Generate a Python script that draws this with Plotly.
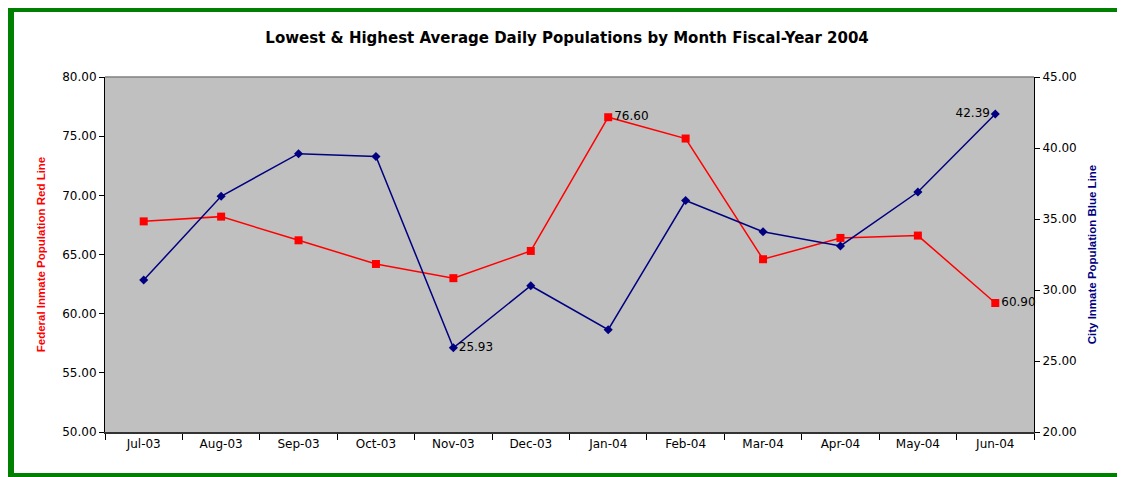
import plotly.graph_objects as go

months = ["Jul-03", "Aug-03", "Sep-03", "Oct-03", "Nov-03", "Dec-03",
          "Jan-04", "Feb-04", "Mar-04", "Apr-04", "May-04", "Jun-04"]
federal = [67.8, 68.2, 66.2, 64.2, 63.0, 65.3, 76.60, 74.8, 64.6, 66.4, 66.6, 60.90]
city = [30.7, 36.6, 39.6, 39.4, 25.93, 30.3, 27.2, 36.3, 34.1, 33.1, 36.9, 42.39]

fed_labels = ["", "", "", "", "", "", "76.60", "", "", "", "", "60.90"]
city_labels = ["", "", "", "", "25.93", "", "", "", "", "", "", "42.39"]
city_pos = ["middle right"] * 11 + ["middle left"]

# page body has an 8px margin, so the figure is drawn from (8, 8)
OFF = 8
W, H = 1125 - OFF, 477 - OFF
L, T = 105 - OFF, 77 - OFF
pw, ph = 929, 355
R, B = W - L - pw, H - T - ph


def px(x):
    return (x - OFF - L) / pw


def py(y):
    return (T + ph - (y - OFF)) / ph


tick_font = dict(family="DejaVu Sans", size=12, color="black")
narrow = "Liberation Sans Narrow, Arial Narrow, Liberation Sans"
green = "#008000"

fig = go.Figure()
fig.add_trace(go.Scatter(
    x=months, y=federal, mode="lines+markers+text", name="Federal",
    line=dict(color="#FF0000", width=1.5),
    marker=dict(symbol="square", size=8, color="#FF0000"),
    text=fed_labels, textposition="middle right", textfont=tick_font,
    cliponaxis=False))
fig.add_trace(go.Scatter(
    x=months, y=city, mode="lines+markers+text", name="City", yaxis="y2",
    line=dict(color="#000080", width=1.5),
    marker=dict(symbol="diamond", size=7, color="#000080"),
    text=city_labels, textposition=city_pos, textfont=tick_font,
    cliponaxis=False))

fig.update_layout(
    width=W, height=H,
    margin=dict(l=L, r=R, t=T, b=B),
    paper_bgcolor="white", plot_bgcolor="#C0C0C0",
    showlegend=False,
    title=dict(text="<b>Lowest & Highest Average Daily Populations by Month Fiscal-Year 2004</b>",
               x=px(570), xanchor="center", y=1 - (38 - OFF) / H, yanchor="middle",
               font=dict(family="DejaVu Sans", size=15, color="black")),
    xaxis=dict(type="category", tickson="boundaries", ticks="outside", ticklen=6,
               tickcolor="black", showline=True, linecolor="#333333", linewidth=2,
               showgrid=False, tickfont=tick_font, range=[-0.5, 11.5]),
    yaxis=dict(range=[50, 80], dtick=5, tickformat=".2f", ticks="outside", ticklen=5,
               tickcolor="black", showline=True, linecolor="black", linewidth=1,
               showgrid=False, zeroline=False, tickfont=tick_font,
               title=dict(text="<b>Federal Inmate Population Red Line</b>", standoff=14,
                          font=dict(family=narrow, size=11.5, color="#FF0000"))),
    yaxis2=dict(range=[20, 45], dtick=5, tickformat=".2f", ticks="outside", ticklen=5,
                tickcolor="black", showline=True, linecolor="black", linewidth=1,
                overlaying="y", side="right", showgrid=False, zeroline=False,
                tickfont=tick_font,
                title=dict(text="<b>City Inmate Population Blue Line</b>", standoff=12,
                           font=dict(family=narrow, size=11.5, color="#000080"))),
    shapes=[
        dict(type="line", xref="paper", yref="paper", x0=0, x1=1, y0=1, y1=1,
             line=dict(color="#808080", width=1.5)),
        # green frame: left, top and bottom strips, kept inside the figure
        dict(type="rect", xref="paper", yref="paper", layer="above",
             x0=px(5), x1=px(14), y0=py(477), y1=py(4),
             fillcolor=green, line=dict(width=0)),
        dict(type="rect", xref="paper", yref="paper", layer="above",
             x0=px(5), x1=px(1125), y0=py(12), y1=py(4),
             fillcolor=green, line=dict(width=0)),
        dict(type="rect", xref="paper", yref="paper", layer="above",
             x0=px(5), x1=px(1125), y0=py(477), y1=py(473),
             fillcolor=green, line=dict(width=0)),
    ],
)

fig.write_html("out.html")
